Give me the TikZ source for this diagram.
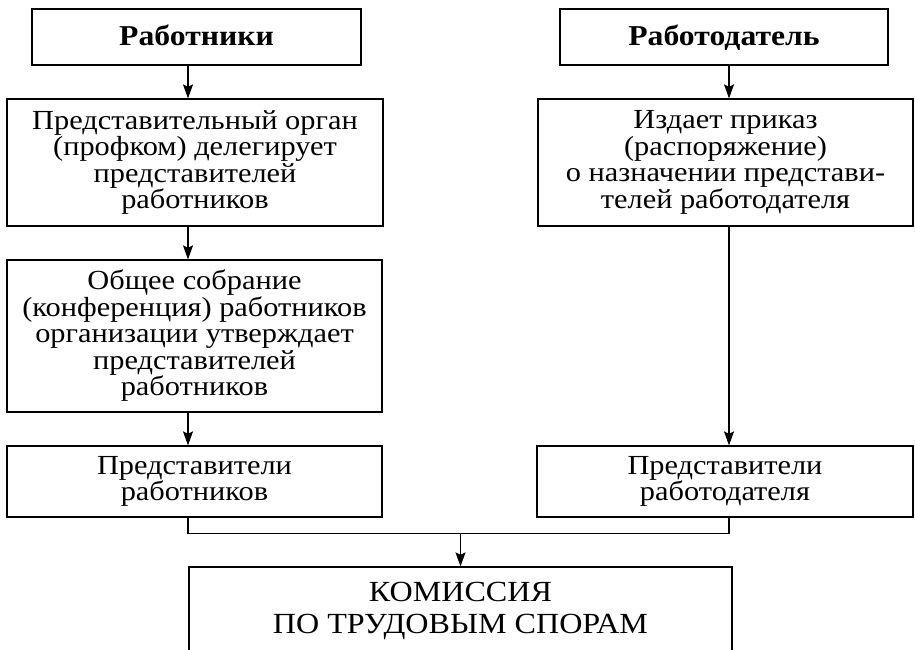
\documentclass[tikz,border=0pt]{standalone}
\usepackage{fontspec}
\setmainfont{Liberation Serif}[FakeStretch=1.1]
\usetikzlibrary{calc,arrows.meta}

\begin{document}
\begin{tikzpicture}[
        %We set the scale (one unit is one pixel of the sketch) and define some styles
        x=0.5pt, y=-0.5pt,
        box/.style={draw, line width=0.6pt, align=center, inner sep=0pt,
            font=\fontsize{13.8}{13.25}\selectfont},
        head box/.style={box, minimum height=28pt, text height=0.9em, text depth=0.08em,
            font=\fontsize{14.4}{15}\selectfont\bfseries},
        link/.style={line width=0.6pt, -{Stealth[length=7pt,width=5pt,inset=1.2pt]}},
        plain link/.style={line width=0.6pt}
     ]
\useasboundingbox (0,0) rectangle (915,649);
% Columns of the arrows
    \coordinate (lcol) at (188,0);
    \coordinate (rcol) at (729,0);

    % Workers side
    \node[head box, minimum width=164.5pt] (rab) at (196.5,37) {Работники};
    \node[box, minimum width=188pt, minimum height=63.5pt] (org) at (195,162.5)
        {Представительный орган\\(профком) делегирует\\представителей\\работников};
    \node[box, minimum width=187.5pt, minimum height=76pt] (sobr) at (194.5,336)
        {Общее собрание\\(конференция) работников\\организации утверждает\\представителей\\работников};
    \node[box, minimum width=187.5pt, minimum height=35.5pt] (prw) at (194.5,481.5)
        {Представители\\работников};

    % Employer side
    \node[head box, minimum width=164pt] (rdt) at (724,37) {Работодатель};
    \node[box, minimum width=187.5pt, minimum height=63.5pt] (prik) at (725.5,162.5)
        {Издает приказ\\(распоряжение)\\о назначении представи-\\телей работодателя};
    \node[box, minimum width=188pt, minimum height=35.5pt] (prd) at (725,481.5)
        {Представители\\работодателя};

    % The commission
    \node[box, minimum width=271.5pt, minimum height=44pt,
        font=\fontsize{14.6}{16}\selectfont] (kts) at (460.5,611)
        {КОМИССИЯ\\ПО ТРУДОВЫМ СПОРАМ};

    % arrows
    \draw[link] (rab.south -| lcol) -- (org.north -| lcol);
    \draw[link] (org.south -| lcol) -- (sobr.north -| lcol);
    \draw[link] (sobr.south -| lcol) -- (prw.north -| lcol);
    \draw[link] (rdt.south -| rcol) -- (prik.north -| rcol);
    \draw[link] (prik.south -| rcol) -- (prd.north -| rcol);
    % both sides meet above the commission
    \coordinate (mrg) at ($(kts.north)+(0,-33)$);
    \draw[plain link] (prw.south -| lcol) |- (mrg) -| (prd.south -| rcol);
    \draw[link] (mrg) -- (kts.north);
\end{tikzpicture}
\end{document}
